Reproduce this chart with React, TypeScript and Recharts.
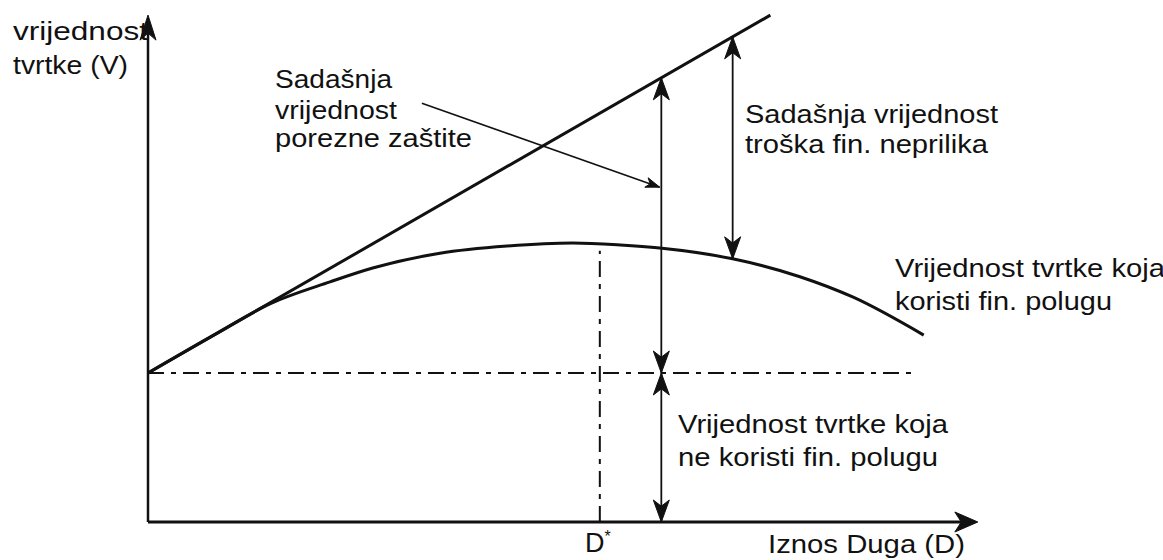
import { ComposedChart, Line, XAxis, YAxis, ReferenceLine, ReferenceDot } from "recharts";

// debt (x) vs firm value (y), both in arbitrary units
const unleveredValue = 29.1;

const taxShieldLine = [
  { x: 0, y: 29.1 },
  { x: 75.9, y: 99 },
];

const leveredCurve = [
  { x: 0, y: 29.1 },
  { x: 8, y: 36.5 },
  { x: 15, y: 42.7 },
  { x: 22.2, y: 46.9 },
  { x: 27.4, y: 49.6 },
  { x: 35.6, y: 52.5 },
  { x: 43.8, y: 53.9 },
  { x: 51.8, y: 54.5 },
  { x: 57.6, y: 54.1 },
  { x: 62.4, y: 53.5 },
  { x: 71.3, y: 51.4 },
  { x: 79.5, y: 47.9 },
  { x: 86.0, y: 43.9 },
  { x: 94.6, y: 36.5 },
];

const optimalDebt = 55.1;
const optimalTop = 53;
const unleveredEnd = 93.8;

// dimension arrows: [x, yFrom, yTo]
const shieldArrow = [62.6, 86.75, 29.1];
const baseArrow = [62.6, 29.1, 0];
const distressArrow = [71.3, 94.76, 51.4];

const pointerArrow = [
  { x: 33.4, y: 81.8 },
  { x: 62.4, y: 65.4 },
];

const axisTop = 99;
const axisRight = 101.2;

const ink = "#111";

const arrowHead = (angle: number, len: number, half: number) => (props: any) => {
  const { cx, cy } = props;
  const a = (angle * Math.PI) / 180;
  const ux = Math.cos(a);
  const uy = Math.sin(a);
  const px = -uy;
  const py = ux;
  const bx = cx - len * ux;
  const by = cy - len * uy;
  const nx = cx - 0.72 * len * ux;
  const ny = cy - 0.72 * len * uy;
  const pts = [
    [cx, cy],
    [bx + half * px, by + half * py],
    [nx, ny],
    [bx - half * px, by - half * py],
  ]
    .map((p) => p.join(","))
    .join(" ");
  return <polygon points={pts} fill={ink} stroke={ink} strokeWidth={1} />;
};

const UP = -90;
const DOWN = 90;

const textStyle = { fontFamily: "'Liberation Sans', Arial, sans-serif", fontSize: 26, fill: ink };

const labels = [
  { t: "vrijednost", x: 13, y: 40, w: 135 },
  { t: "tvrtke (V)", x: 13, y: 74, w: 115 },
  { t: "Sadašnja", x: 275, y: 88, w: 117 },
  { t: "vrijednost", x: 275, y: 119, w: 122 },
  { t: "porezne zaštite", x: 275, y: 147, w: 197 },
  { t: "Sadašnja vrijednost", x: 745, y: 123, w: 253 },
  { t: "troška fin. neprilika", x: 745, y: 153, w: 243 },
  { t: "Vrijednost tvrtke koja", x: 895, y: 277, w: 270 },
  { t: "koristi fin. polugu", x: 895, y: 310, w: 217 },
  { t: "Vrijednost tvrtke koja", x: 678, y: 433, w: 270 },
  { t: "ne koristi fin. polugu", x: 678, y: 466, w: 260 },
  { t: "Iznos Duga (D)", x: 768, y: 553, w: 197 },
];

const dash = "16 7 5 7";

export default function App() {
  return (
    <div style={{ position: "absolute", left: 0, top: 0, width: 1163, height: 560, background: "#fff" }}>
      <ComposedChart width={1163} height={560} margin={{ top: 10, right: 113, bottom: 38, left: 148 }}>
        <XAxis type="number" dataKey="x" domain={[0, 110]} hide />
        <YAxis type="number" dataKey="y" domain={[0, 100]} hide />

        {/* axes */}
        <ReferenceLine segment={[{ x: 0, y: 0 }, { x: 0, y: axisTop - 2 }]} stroke={ink} strokeWidth={2.5} />
        <ReferenceLine segment={[{ x: 0, y: 0 }, { x: axisRight - 2, y: 0 }]} stroke={ink} strokeWidth={3} />
        <ReferenceDot x={0} y={axisTop} shape={arrowHead(UP, 25, 8)} />
        <ReferenceDot x={axisRight} y={0} shape={arrowHead(0, 23, 10)} />

        {/* dash-dot guides */}
        <ReferenceLine
          segment={[{ x: 0, y: unleveredValue }, { x: unleveredEnd, y: unleveredValue }]}
          stroke={ink}
          strokeWidth={2}
          strokeDasharray={dash}
        />
        <ReferenceLine
          segment={[{ x: optimalDebt, y: 0 }, { x: optimalDebt, y: optimalTop }]}
          stroke={ink}
          strokeWidth={2}
          strokeDasharray={dash}
        />

        {/* value lines */}
        <Line
          data={taxShieldLine}
          dataKey="y"
          type="linear"
          stroke={ink}
          strokeWidth={3}
          dot={false}
          isAnimationActive={false}
        />
        <Line
          data={leveredCurve}
          dataKey="y"
          type="monotone"
          stroke={ink}
          strokeWidth={3}
          dot={false}
          isAnimationActive={false}
        />

        {/* dimension arrows */}
        {[shieldArrow, baseArrow, distressArrow].map(([x, y1, y2], i) => (
          <ReferenceLine key={"d" + i} segment={[{ x, y: y1 }, { x, y: y2 }]} stroke={ink} strokeWidth={1.8} />
        ))}
        {[shieldArrow, baseArrow, distressArrow].map(([x, y1], i) => (
          <ReferenceDot key={"u" + i} x={x} y={y1} shape={arrowHead(UP, 22, 8)} />
        ))}
        {[shieldArrow, baseArrow, distressArrow].map(([x, , y2], i) => (
          <ReferenceDot key={"w" + i} x={x} y={y2} shape={arrowHead(DOWN, 22, 8)} />
        ))}

        {/* pointer from tax shield label */}
        <ReferenceLine segment={pointerArrow} stroke={ink} strokeWidth={1.6} />
        <ReferenceDot x={pointerArrow[1].x} y={pointerArrow[1].y} shape={arrowHead(19.4, 14, 5)} />

        <g>
          {labels.map((l, i) => (
            <text key={i} x={l.x} y={l.y} textLength={l.w} lengthAdjust="spacingAndGlyphs" style={textStyle}>
              {l.t}
            </text>
          ))}
          <text x={585} y={552} style={{ ...textStyle, fontSize: 27 }}>
            D
            <tspan fontSize={16} dy={-10}>
              *
            </tspan>
          </text>
        </g>
      </ComposedChart>
    </div>
  );
}
